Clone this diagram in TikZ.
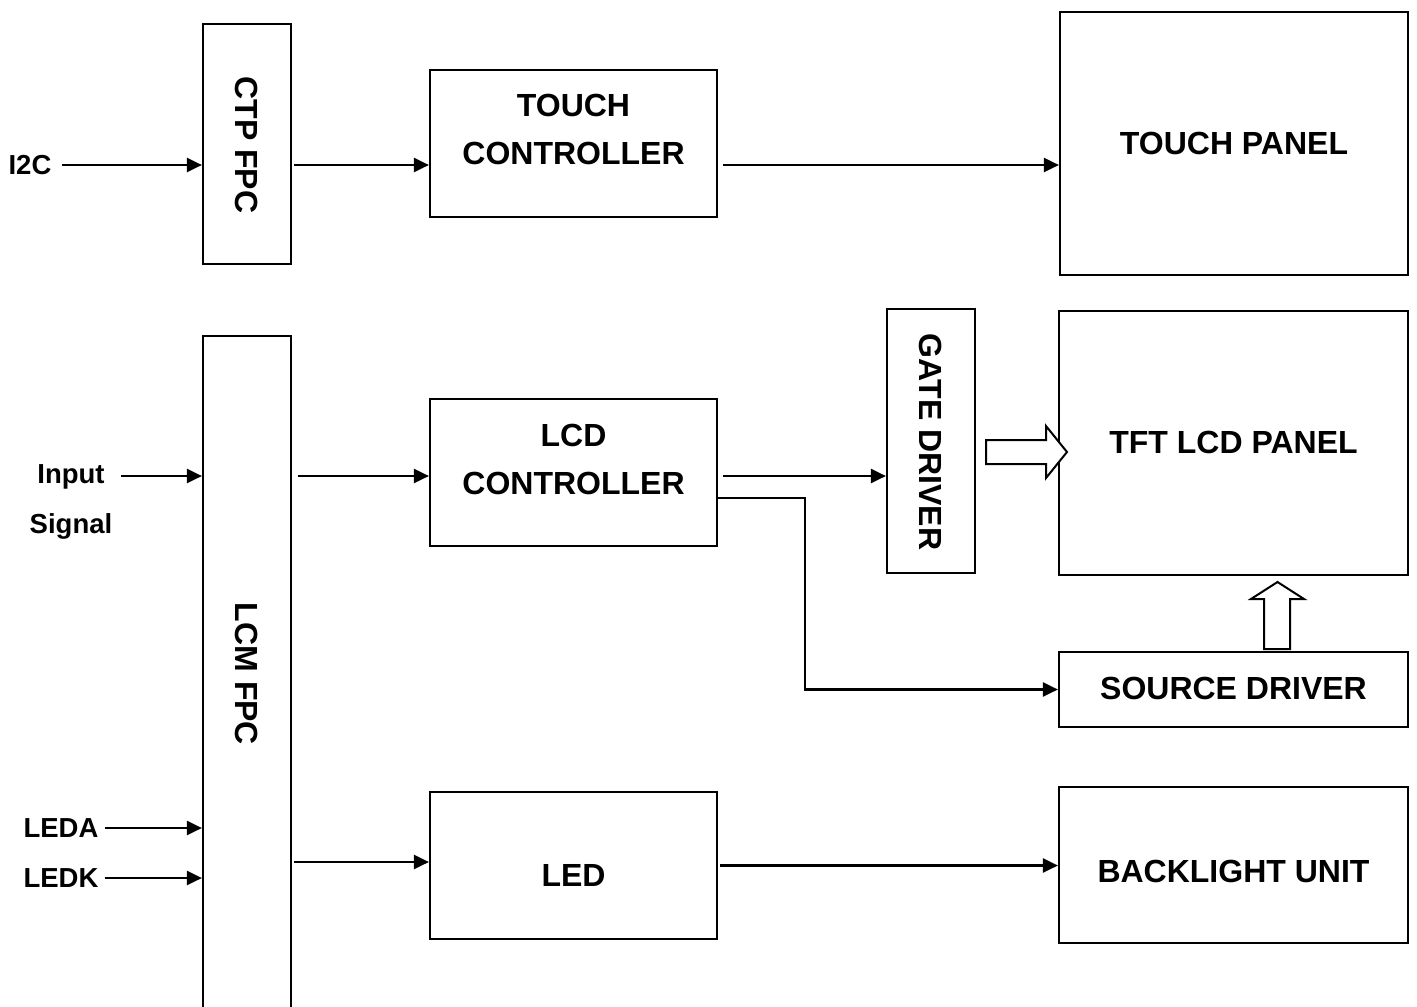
\documentclass[tikz,border=0pt]{standalone}
\usepackage{fontspec}
\setmainfont{Liberation Sans}
\usetikzlibrary{arrows.meta}
\begin{document}
\begin{tikzpicture}[x=1pt,y=-1pt,
  box/.style={draw,line width=2.2pt,inner sep=0pt},
  txt/.style={inner sep=0pt,text depth=0pt,font=\bfseries\fontsize{32}{48}\selectfont},
  vtxt/.style={txt,rotate=-90},
  lbl/.style={inner sep=0pt,text depth=0pt,font=\bfseries\fontsize{27.5}{30}\selectfont},
  arr/.style={line width=2.2pt,-{Triangle[length=15pt,width=14pt]}},
  hollow/.style={draw,line width=2pt,fill=white,line join=miter}]
\useasboundingbox (0,0) rectangle (1417,1007);
% boxes
\node[box,minimum width=88,minimum height=240] (ctp) at (247,144) {};
\node[vtxt] (ctpt) at (247,145) {CTP FPC};
\node[box,minimum width=287,minimum height=147] (tc) at (573.5,143.5) {};
\node[txt] (tct1) at (573.5,105) {TOUCH};
\node[txt] (tct2) at (573.5,153) {CONTROLLER};
\node[box,minimum width=348,minimum height=263] (tp) at (1234,143.5) {};
\node[txt] (tpt) at (1234,143) {TOUCH PANEL};
\node[box,minimum width=88,minimum height=690] (lcm) at (247,681) {};
\node[vtxt] (lcmt) at (247,674) {LCM FPC};
\node[box,minimum width=287,minimum height=147] (lcdc) at (573.5,472.5) {};
\node[txt] (lcdct1) at (573.5,435) {LCD};
\node[txt] (lcdct2) at (573.5,483) {CONTROLLER};
\node[box,minimum width=88,minimum height=264] (gd) at (931,441) {};
\node[vtxt] (gdt) at (931,442) {GATE DRIVER};
\node[box,minimum width=349,minimum height=264] (tft) at (1233.5,443) {};
\node[txt] (tftt) at (1233.5,442) {TFT LCD PANEL};
\node[box,minimum width=349,minimum height=75] (sd) at (1233.5,689.5) {};
\node[txt] (sdt) at (1233.5,688) {SOURCE DRIVER};
\node[box,minimum width=287,minimum height=147] (led) at (573.5,865.5) {};
\node[txt] (ledt) at (573.5,875) {LED};
\node[box,minimum width=349,minimum height=156] (blu) at (1233.5,865) {};
\node[txt] (blut) at (1233.5,871) {BACKLIGHT UNIT};
% labels
\node[lbl] (i2c) at (30,165) {I2C};
\node[lbl] (inp) at (71,474) {Input};
\node[lbl] (sig) at (71,524) {Signal};
\node[lbl] (leda) at (61,828) {LEDA};
\node[lbl] (ledk) at (61,878) {LEDK};
% connectors
\draw[arr] ([xshift=10pt]i2c.east) -- (ctp.west |- i2c.east);
\draw[arr] ([xshift=2pt]ctp.east |- i2c.east) -- (tc.west |- i2c.east);
\draw[arr] ([xshift=5pt]tc.east |- i2c.east) -- (tp.west |- i2c.east);
\coordinate (inrow) at (0,476);
\draw[arr] ([xshift=16pt]inp.east |- inrow) -- (lcm.west |- inrow);
\draw[arr] ([xshift=6pt]lcm.east |- inrow) -- (lcdc.west |- inrow);
\draw[arr] ([xshift=5pt]lcdc.east |- inrow) -- (gd.west |- inrow);
\coordinate (lcdc2) at (717,498);
\coordinate (bend) at (805,498);
\draw[arr] (lcdc2) -- (bend) |- (sd.west);
\draw[arr] ([xshift=6pt]leda.east) -- (lcm.west |- leda.east);
\draw[arr] ([xshift=6pt]ledk.east) -- (lcm.west |- ledk.east);
\coordinate (ledrow) at (0,862);
\draw[arr] ([xshift=2pt]lcm.east |- ledrow) -- (led.west |- ledrow);
\draw[arr] ([xshift=2pt]led.east) -- (blu.west |- led.east);
% hollow arrows
\draw[hollow] (986,440) -- (1046,440) -- (1046,426) -- (1067,452) -- (1046,478) -- (1046,464) -- (986,464) -- cycle;
\draw[hollow] (1264,649) -- (1264,599) -- (1251,599) -- (1277.5,582) -- (1304,599) -- (1290,599) -- (1290,649) -- cycle;
\end{tikzpicture}
\end{document}
